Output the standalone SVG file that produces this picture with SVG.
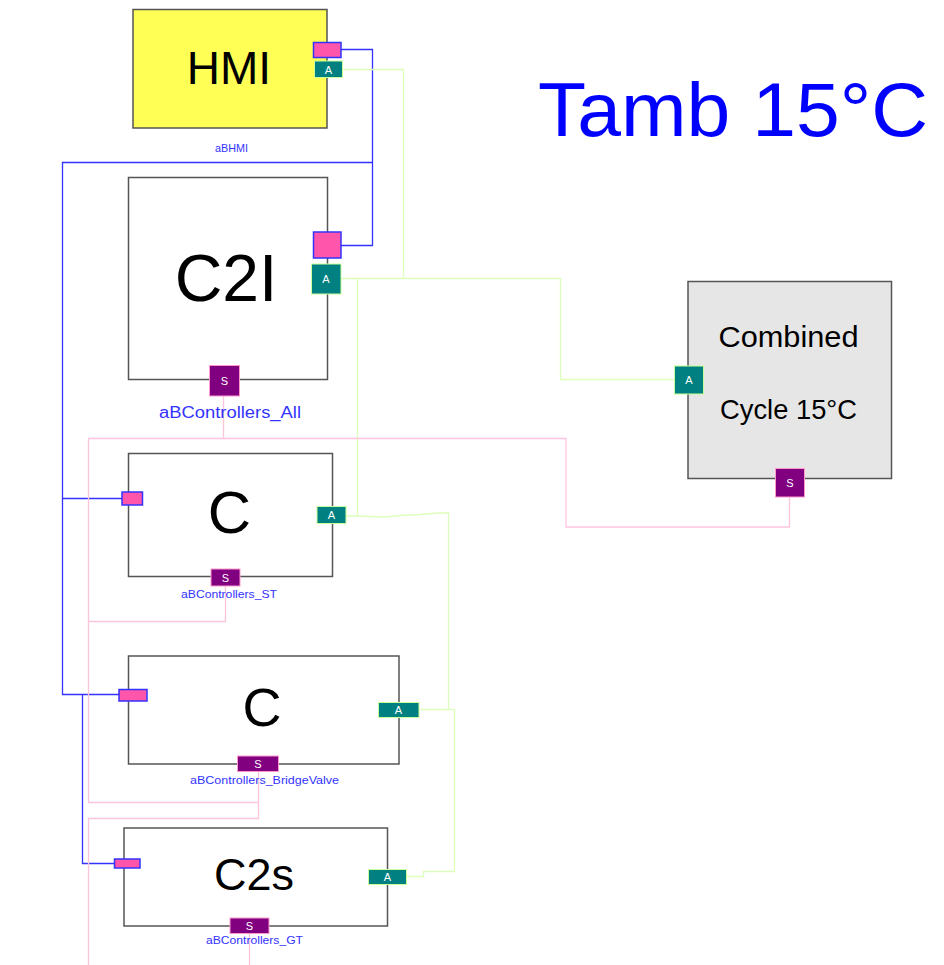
<svg xmlns="http://www.w3.org/2000/svg" width="944" height="965" viewBox="0 0 944 965">
<style>
.box{stroke:#555;stroke-width:1.5}
.big{font-family:"Liberation Sans",Arial,sans-serif;fill:#000;text-anchor:middle}
.lbl{font-family:"Liberation Sans",Arial,sans-serif;fill:#3333ff;text-anchor:middle}
.pp{fill:#ff55aa;stroke:#3333ff;stroke-width:1.5}
.pa{fill:#008080;stroke:#ccff99;stroke-width:1}
.ps{fill:#800080;stroke:#ff99cc;stroke-width:1}
.pt{font-family:"Liberation Sans",Arial,sans-serif;fill:#fff;text-anchor:middle;font-size:11px}
.wb{fill:none;stroke:#3333ff;stroke-width:1.3}
.wg{fill:none;stroke:#ddffbb;stroke-width:1.3}
.wp{fill:none;stroke:#ffc4dd;stroke-width:1.3}
</style>
<rect width="944" height="965" fill="#fff"/>
<g id="connectors">
<polyline class="wb" points="341,49.5 372.5,49.5 372.5,245.5 341,245.5"/>
<polyline class="wb" points="372.5,162.5 62.5,162.5 62.5,694.5 119,694.5"/>
<polyline class="wb" points="62.5,498.5 122,498.5"/>
<polyline class="wb" points="82.5,694.5 82.5,863.5 114,863.5"/>
<polyline class="wg" points="342,69.5 403.5,69.5 403.5,278.5"/>
<polyline class="wg" points="341,278.5 560.5,278.5 560.5,379.5 674,379.5"/>
<polyline class="wg" points="357.5,278.5 357.5,516"/>
<polyline class="wg" points="346,516 357,516 384,517 400,515.5 420,514.5 438,513 448.5,513 448.5,709.5"/>
<polyline class="wg" points="419,709.5 454.5,709.5 454.5,871.5 423.5,871.5 423.5,876.5 407,876.5"/>
<polyline class="wp" points="223.5,396 223.5,438.5 88.5,438.5 88.5,802.5 258.5,802.5"/>
<polyline class="wp" points="223.5,438.5 566,438.5 566,527 789.5,527 789.5,497"/>
<polyline class="wp" points="225.5,586 225.5,621.5 88.5,621.5"/>
<polyline class="wp" points="258.5,772 258.5,818.5 88.5,818.5 88.5,965"/>
<polyline class="wp" points="249.5,934 249.5,965"/>
</g>
<g id="hmi">
<rect class="box" x="133" y="9.5" width="194" height="118.5" fill="#ffff55"/>
<text class="big" x="229" y="84" font-size="46">HMI</text>
<rect class="pp" x="313.5" y="42.5" width="27.5" height="15"/>
<rect class="pa" x="314.5" y="61" width="28" height="16.5"/>
<text class="pt" x="328.5" y="73.5">A</text>
<text class="lbl" x="231.5" y="152" font-size="11" textLength="33" lengthAdjust="spacingAndGlyphs">aBHMI</text>
</g>
<g id="c2i">
<rect class="box" x="128.5" y="177.5" width="199" height="202" fill="#fff"/>
<text class="big" x="226" y="301" font-size="66">C2I</text>
<rect class="pp" x="313.5" y="232" width="27.5" height="26"/>
<rect class="pa" x="311.5" y="264" width="29.5" height="30"/>
<text class="pt" x="326" y="283">A</text>
<rect class="ps" x="209.5" y="365.5" width="30" height="30.5"/>
<text class="pt" x="224.5" y="385">S</text>
<text class="lbl" x="230" y="418" font-size="16" textLength="142" lengthAdjust="spacingAndGlyphs">aBControllers_All</text>
</g>
<g id="combined">
<rect class="box" x="688" y="281.5" width="203.5" height="197" fill="#e6e6e6"/>
<text class="big" x="788.5" y="346.5" font-size="29" textLength="140" lengthAdjust="spacingAndGlyphs">Combined</text>
<text class="big" x="788.5" y="418.5" font-size="28" textLength="137" lengthAdjust="spacingAndGlyphs">Cycle 15°C</text>
<rect class="pa" x="674.5" y="366" width="29" height="28"/>
<text class="pt" x="689" y="384">A</text>
<rect class="ps" x="775.5" y="468.5" width="29" height="28.5"/>
<text class="pt" x="790" y="487">S</text>
</g>
<g id="c_st">
<rect class="box" x="128.5" y="453.5" width="204" height="123" fill="#fff"/>
<text class="big" x="229.5" y="533" font-size="60">C</text>
<rect class="pp" x="122" y="492" width="20.5" height="13"/>
<rect class="pa" x="317" y="506.5" width="29" height="17"/>
<text class="pt" x="331.5" y="519">A</text>
<rect class="ps" x="211" y="569" width="29" height="17"/>
<text class="pt" x="225.5" y="581.5">S</text>
<text class="lbl" x="229" y="598" font-size="11" textLength="96" lengthAdjust="spacingAndGlyphs">aBControllers_ST</text>
</g>
<g id="c_bridge">
<rect class="box" x="128.5" y="656" width="270.5" height="108" fill="#fff"/>
<text class="big" x="262" y="726" font-size="54">C</text>
<rect class="pp" x="119" y="689.5" width="28" height="11.5"/>
<rect class="pa" x="378.5" y="702.5" width="40.5" height="15"/>
<text class="pt" x="398.5" y="714">A</text>
<rect class="ps" x="237.5" y="756" width="41" height="15.5"/>
<text class="pt" x="258" y="768">S</text>
<text class="lbl" x="264.5" y="784" font-size="11" textLength="149" lengthAdjust="spacingAndGlyphs">aBControllers_BridgeValve</text>
</g>
<g id="c2s">
<rect class="box" x="124" y="828" width="263.5" height="98" fill="#fff"/>
<text class="big" x="254" y="890" font-size="45">C2s</text>
<rect class="pp" x="114.5" y="859" width="25.5" height="9"/>
<rect class="pa" x="368.5" y="869.5" width="38" height="15"/>
<text class="pt" x="387.5" y="881">A</text>
<rect class="ps" x="230" y="918" width="39" height="15.5"/>
<text class="pt" x="249.5" y="930">S</text>
<text class="lbl" x="254.5" y="944" font-size="11" textLength="97" lengthAdjust="spacingAndGlyphs">aBControllers_GT</text>
</g>
<g id="title">
<text x="538" y="136" font-family="Liberation Sans, Arial, sans-serif" font-size="76" fill="#0000ff" textLength="390" lengthAdjust="spacingAndGlyphs">Tamb 15°C</text>
</g>
</svg>
